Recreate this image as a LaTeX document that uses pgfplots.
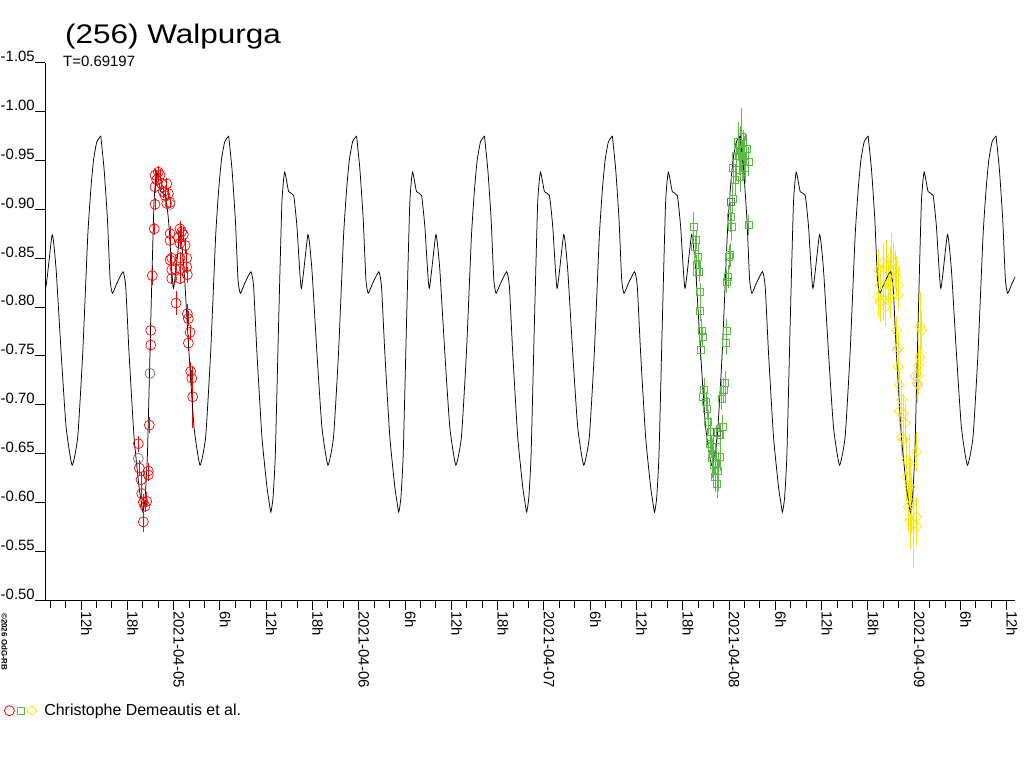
\documentclass[border=0pt]{standalone}
\usepackage{pgfplots}
\pgfplotsset{compat=1.18}
\usepackage{pgfplotstable}
\usepackage{fontspec}
\usepackage{graphicx}
\setmainfont{Liberation Sans}
\definecolor{cred}{RGB}{255,0,0}
\definecolor{cgreen}{RGB}{92,186,70}
\definecolor{cyellow}{RGB}{250,230,0}
\definecolor{cgrey}{RGB}{110,110,110}
\definecolor{clgrey}{RGB}{200,200,200}

% one period of the model light curve, t in hours from maximum
\pgfplotstableread{
t v
0.000 -0.975
0.431 -0.941
0.862 -0.890
1.210 -0.828
1.509 -0.814
2.073 -0.824
2.885 -0.836
3.233 -0.821
3.664 -0.753
4.311 -0.667
4.957 -0.616
5.214 -0.602
5.471 -0.590
5.753 -0.605
6.052 -0.650
6.483 -0.786
6.897 -0.906
7.254 -0.938
7.776 -0.918
8.423 -0.914
8.854 -0.882
9.417 -0.819
10.280 -0.874
10.794 -0.838
11.440 -0.753
12.087 -0.677
12.866 -0.638
13.596 -0.667
14.242 -0.753
14.889 -0.872
15.287 -0.920
15.635 -0.950
16.066 -0.969
16.580 -0.975
}\model

\pgfplotstableread{
t v e
19.43 -0.660 0.008
19.56 -0.635 0.008
19.78 -0.623 0.008
19.87 -0.609 0.006
20.08 -0.600 0.008
20.08 -0.580 0.010
20.30 -0.596 0.006
20.52 -0.601 0.006
20.72 -0.632 0.008
20.72 -0.628 0.006
20.85 -0.679 0.008
21.04 -0.776 0.008
21.04 -0.761 0.006
21.24 -0.832 0.010
21.50 -0.880 0.006
21.59 -0.935 0.006
21.59 -0.923 0.006
21.59 -0.905 0.006
21.81 -0.930 0.006
22.02 -0.938 0.006
22.24 -0.935 0.006
22.46 -0.926 0.006
22.67 -0.918 0.006
22.89 -0.914 0.006
23.11 -0.926 0.006
23.11 -0.906 0.006
23.32 -0.916 0.006
23.54 -0.907 0.006
23.54 -0.875 0.008
23.54 -0.868 0.006
23.54 -0.848 0.006
23.76 -0.850 0.006
23.76 -0.838 0.006
23.76 -0.829 0.006
24.19 -0.839 0.006
24.32 -0.804 0.012
24.61 -0.871 0.008
24.83 -0.880 0.008
24.83 -0.865 0.006
24.83 -0.850 0.006
24.83 -0.839 0.006
24.83 -0.829 0.006
25.05 -0.877 0.006
25.26 -0.874 0.008
25.48 -0.863 0.008
25.70 -0.850 0.008
25.70 -0.841 0.006
25.78 -0.833 0.008
25.78 -0.793 0.010
25.91 -0.788 0.008
25.91 -0.763 0.008
26.13 -0.774 0.008
26.22 -0.734 0.010
26.35 -0.727 0.008
26.48 -0.708 0.032
}\reddata

\pgfplotstableread{
t v e
91.38 -0.882 0.015
91.60 -0.862 0.012
91.73 -0.869 0.010
91.82 -0.843 0.010
91.82 -0.836 0.010
92.02 -0.851 0.012
92.15 -0.836 0.010
92.24 -0.815 0.010
92.24 -0.796 0.010
92.33 -0.756 0.010
92.46 -0.776 0.012
92.59 -0.769 0.010
92.67 -0.708 0.012
92.76 -0.715 0.012
93.02 -0.703 0.010
93.19 -0.696 0.012
93.32 -0.682 0.012
93.54 -0.665 0.015
93.54 -0.660 0.012
93.60 -0.672 0.015
93.76 -0.657 0.012
93.80 -0.645 0.020
93.97 -0.650 0.015
94.00 -0.638 0.020
94.19 -0.626 0.015
94.30 -0.640 0.020
94.41 -0.664 0.015
94.49 -0.619 0.015
94.60 -0.632 0.020
94.84 -0.647 0.015
94.84 -0.669 0.012
95.06 -0.706 0.012
95.19 -0.677 0.012
95.27 -0.715 0.012
95.48 -0.722 0.012
95.61 -0.763 0.012
95.71 -0.776 0.012
95.91 -0.831 0.012
95.71 -0.826 0.012
96.04 -0.851 0.012
96.13 -0.853 0.012
96.22 -0.892 0.015
96.35 -0.882 0.015
96.48 -0.911 0.015
96.56 -0.942 0.015
96.78 -0.930 0.015
96.91 -0.955 0.015
97.00 -0.947 0.015
97.21 -0.969 0.020
97.30 -0.955 0.020
97.43 -0.933 0.015
97.50 -0.960 0.025
97.65 -0.974 0.030
97.80 -0.950 0.020
97.86 -0.961 0.020
98.00 -0.955 0.020
98.08 -0.942 0.015
98.30 -0.962 0.015
98.51 -0.949 0.015
98.51 -0.884 0.010
}\greendata

\pgfplotstableread{
t v e
115.36 -0.838 0.020
115.58 -0.822 0.020
115.36 -0.810 0.020
115.58 -0.805 0.020
116.01 -0.807 0.020
116.23 -0.800 0.020
116.01 -0.845 0.020
116.45 -0.843 0.025
116.88 -0.836 0.025
116.66 -0.824 0.020
117.10 -0.851 0.025
117.31 -0.846 0.020
117.52 -0.838 0.020
117.74 -0.831 0.020
117.95 -0.822 0.020
117.95 -0.812 0.015
116.88 -0.809 0.020
117.74 -0.776 0.015
117.95 -0.758 0.015
117.95 -0.739 0.015
118.08 -0.720 0.015
118.39 -0.705 0.020
118.08 -0.693 0.015
118.60 -0.691 0.020
118.82 -0.681 0.020
118.39 -0.667 0.020
118.60 -0.664 0.020
119.04 -0.643 0.025
119.04 -0.626 0.025
119.38 -0.640 0.030
119.47 -0.616 0.030
119.25 -0.595 0.025
119.69 -0.599 0.030
119.47 -0.582 0.030
120.33 -0.585 0.020
120.33 -0.575 0.020
119.89 -0.578 0.045
120.33 -0.652 0.020
120.77 -0.780 0.035
120.99 -0.776 0.020
120.77 -0.749 0.020
120.55 -0.730 0.020
120.42 -0.722 0.020
120.55 -0.740 0.020
}\yellowdata

\begin{document}
\begin{tikzpicture}[x=1bp,y=1bp]
\useasboundingbox (0,0) rectangle (1024,768);
\begin{axis}[
  at={(45bp,168bp)}, anchor=south west, scale only axis,
  width=970bp, height=537.3bp,
  xmin=7.33, xmax=133.08, ymin=-1.05, ymax=-0.50, y dir=reverse,
  axis x line*=bottom, axis y line*=left,
  axis line style={black, line width=0.8bp, -},
  tick align=outside, major tick length=10bp, minor tick length=8bp,
  tick style={black, line width=0.8bp},
  xtick={12,18,...,132}, minor xtick={8,10,...,132},
  xticklabels={12h,18h,2021-04-05,6h,12h,18h,2021-04-06,6h,12h,18h,2021-04-07,6h,12h,18h,2021-04-08,6h,12h,18h,2021-04-09,6h,12h},
  xticklabel style={font=\fontsize{15}{15}\selectfont, yshift=-1bp, rotate=-90, anchor=base west, inner sep=0pt},
  ytick={-1.05,-1.00,-0.95,-0.90,-0.85,-0.80,-0.75,-0.70,-0.65,-0.60,-0.55,-0.50},
  yticklabels={-1.05,-1.00,-0.95,-0.90,-0.85,-0.80,-0.75,-0.70,-0.65,-0.60,-0.55,-0.50},
  yticklabel style={font=\fontsize{15}{15}\selectfont, anchor=base east, inner sep=0pt, xshift=0bp, yshift=1bp},
  legend columns=3,
  legend style={draw=none, fill=none, inner sep=0pt, outer sep=0pt,
    at={(-0.0423,-0.206)}, anchor=west,
    font=\fontsize{16}{16}\selectfont,
    nodes={inner sep=1bp},
    /tikz/every even column/.style={column sep=0bp}},
]
\addlegendimage{legend image code/.code={\draw[cred, line width=0.8bp] (0bp,0bp) circle (5bp);}}
\addlegendentry{}
\addlegendimage{legend image code/.code={\draw[cgreen, line width=0.8bp] (-3.5bp,-3.5bp) rectangle (3.5bp,3.5bp);}}
\addlegendentry{}
\addlegendimage{legend image code/.code={\draw[cyellow, line width=0.8bp] (0bp,-5bp) -- (5bp,0bp) -- (0bp,5bp) -- (-5bp,0bp) -- cycle;}}
\addlegendentry{\hspace{6bp}Christophe Demeautis et al.}

\addplot[only marks, mark=o, mark size=5bp, cred, line width=0.7bp,
  error bars/.cd, y dir=both, y explicit, error mark=none,
  error bar style={cred, line width=0.7bp}]
  table[x=t, y=v, y error=e]{\reddata};
\addplot[only marks, mark=o, mark size=5bp, cgrey, line width=0.7bp]
  coordinates {(19.43,-0.645) (20.94,-0.732) (23.54,-0.905)};

\addplot[only marks, mark=square, mark size=3.5bp, cgreen, line width=0.7bp,
  error bars/.cd, y dir=both, y explicit, error mark=none,
  error bar style={cgreen, line width=0.9bp}]
  table[x=t, y=v, y error=e]{\greendata};
\addplot[only marks, mark=square, mark size=3.5bp, cgrey, line width=0.7bp]
  coordinates {(94.45,-0.672) (96.26,-0.908)};

\addplot[only marks, mark=square, mark size=3.6bp, mark options={rotate=45}, cyellow, line width=0.7bp,
  error bars/.cd, y dir=both, y explicit, error mark=none,
  error bar style={cyellow, line width=0.9bp}]
  table[x=t, y=v, y error=e]{\yellowdata};
\addplot[only marks, mark=square, mark size=3.6bp, mark options={rotate=45}, clgrey, line width=0.7bp]
  coordinates {(117.78,-0.756) (120.11,-0.729) (120.50,-0.720)};

\pgfplotsinvokeforeach{-2.02,14.56,31.14,47.72,64.30,80.88,97.46,114.04,130.62}{
  \addplot[black, line width=0.75bp, smooth, tension=0.3] table[x expr=\thisrow{t}+(#1), y=v]{\model};
}
\end{axis}
\node[anchor=base west, inner sep=0pt] at (65,724.7) {\fontsize{27}{27}\selectfont\scalebox{1.17}[1]{(256) Walpurga}};
\node[anchor=base west, inner sep=0pt] at (63,701.3) {\fontsize{15}{15}\selectfont T=0.69197};
\node[rotate=-90, anchor=base west, inner sep=0pt] at (1.5,155) {\fontsize{8}{8}\selectfont\bfseries ©2026 OdG-RB};
\end{tikzpicture}
\end{document}
